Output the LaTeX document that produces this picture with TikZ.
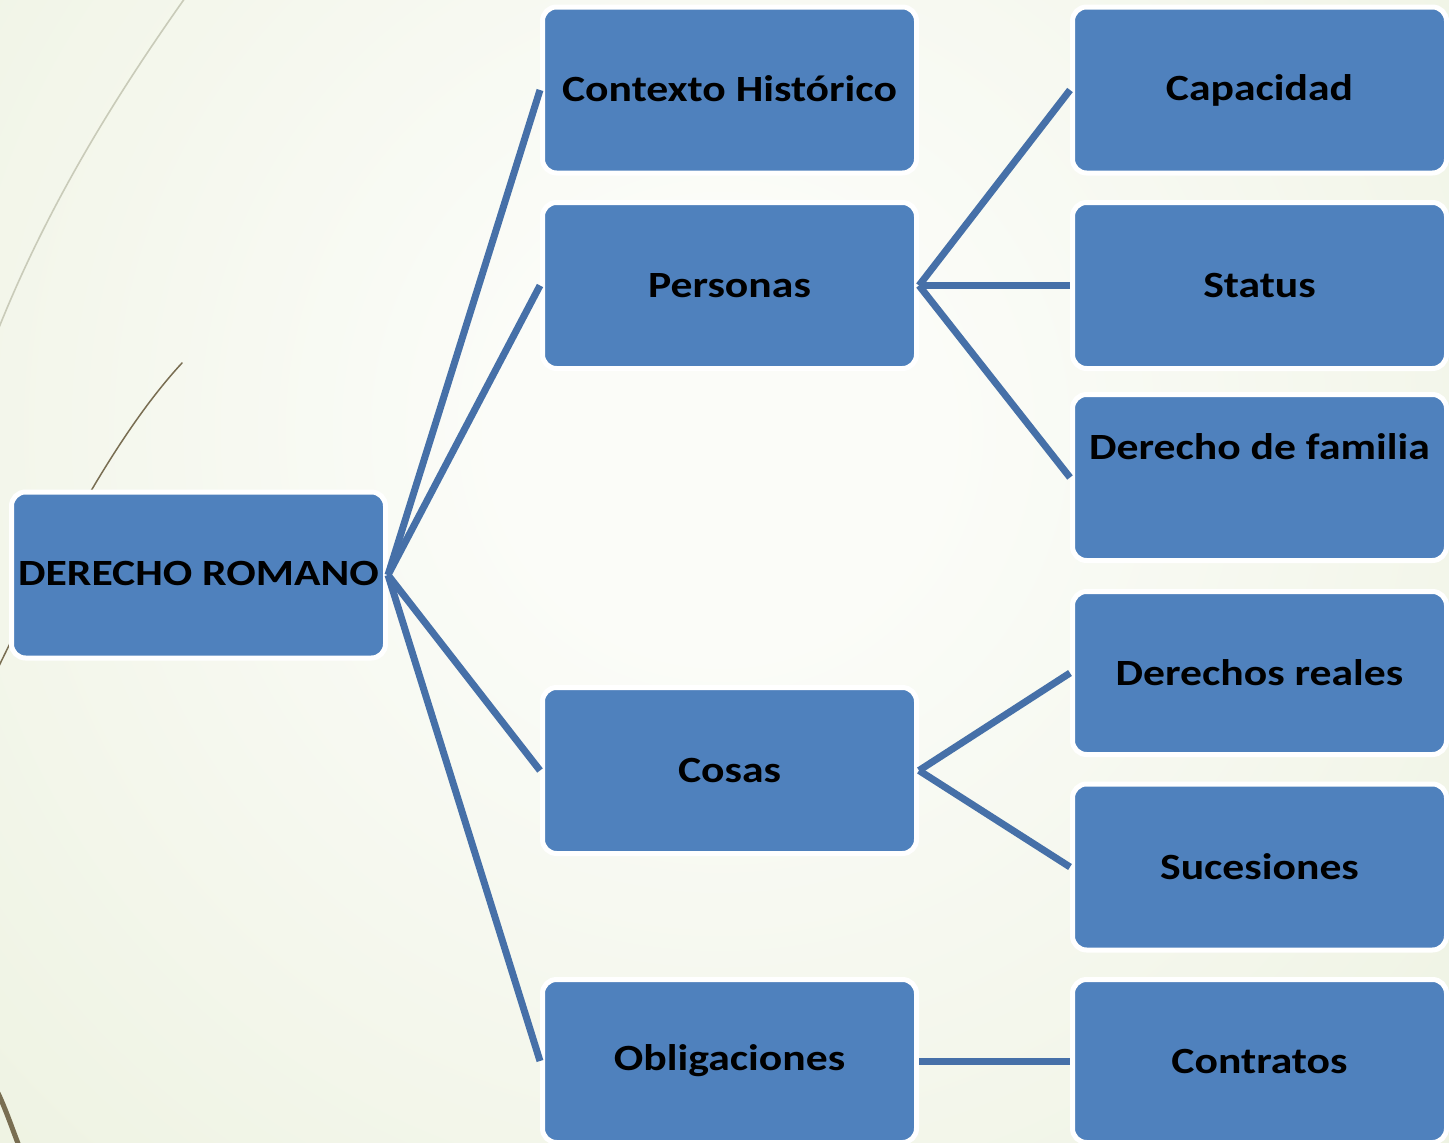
\documentclass[tikz,border=0pt]{standalone}
\usepackage{fontspec}
\newfontfamily\boxfont{Carlito}[FakeStretch=1.18]
\definecolor{boxblue}{HTML}{4F81BD}
\definecolor{linkblue}{HTML}{4670A8}
\definecolor{bgin}{HTML}{FBFCF8}
\definecolor{bgout}{HTML}{E0E8CA}
\definecolor{wisp}{HTML}{796E52}
\definecolor{wisplight}{HTML}{C9CBB9}
\pgfdeclareradialshading{bgshade}{\pgfpoint{0bp}{0bp}}{color(0bp)=(bgin); color(5bp)=(bgin); color(44bp)=(bgout); color(50bp)=(bgout)}
\begin{document}
\begin{tikzpicture}[x=1pt,y=-1pt,
  box/.style={rectangle, rounded corners=14pt, fill=boxblue, draw=white, line width=5pt,
    minimum width=374pt, minimum height=166pt, inner sep=0pt,
    font=\boxfont\bfseries\fontsize{37}{44}\selectfont, text=black},
  boxtext/.style={inner sep=0pt, font=\boxfont\bfseries\fontsize{37}{44}\selectfont, text=black},
  link/.style={draw=linkblue, line width=7pt}]
\useasboundingbox (0,0) rectangle (1449,1143);
\begin{scope}
\clip (0,0) rectangle (1449,1143);
\fill[bgout] (0,0) rectangle (1449,1143);
\shade[shading=bgshade] (720,430) circle (1100);
\draw[wisplight, line width=1.6pt] (185,-2) .. controls (120,90) and (50,200) .. (-2,330);
\draw[wisp, line width=1.5pt, line cap=round] (182,363) .. controls (120,430) and (60,540) .. (-2,668);
\draw[wisp, line width=5pt] (-2,1093) .. controls (6,1110) and (12,1128) .. (19,1146);
\end{scope}

\node[box] (dr) at (198.5,575) {};
\node[boxtext] (drt) at (198.5,573) {DERECHO ROMANO};

\node[box] (ctx) at (729.5,90) {\raisebox{2pt}{Contexto Histórico}};
\node[box] (per) at (729.5,285.5) {Personas};
\node[box] (cos) at (729.5,770.5) {Cosas};
\node[box, minimum height=163pt] (obl) at (729.5,1061) {Obligaciones};

\node[box] (cap) at (1259.5,90) {Capacidad};
\node[box] (sta) at (1259.5,285.5) {Status};
\node[box] (fam) at (1259.5,477.5) {};
\node[boxtext] (famt) at (1259.5,447) {Derecho de familia};
\node[box, minimum height=163pt] (rea) at (1259.5,673) {Derechos reales};
\node[box] (suc) at (1259.5,867) {Sucesiones};
\node[box, minimum height=163pt] (con) at (1259.5,1061) {Contratos};

\draw[link] (dr.east) -- (ctx.west);
\draw[link] (dr.east) -- (per.west);
\draw[link] (dr.east) -- (cos.west);
\draw[link] (dr.east) -- (obl.west);
\draw[link] (per.east) -- (cap.west);
\draw[link] (per.east) -- (sta.west);
\draw[link] (per.east) -- (fam.west);
\draw[link] (cos.east) -- (rea.west);
\draw[link] (cos.east) -- (suc.west);
\draw[link] (obl.east) -- (con.west);
\end{tikzpicture}
\end{document}
